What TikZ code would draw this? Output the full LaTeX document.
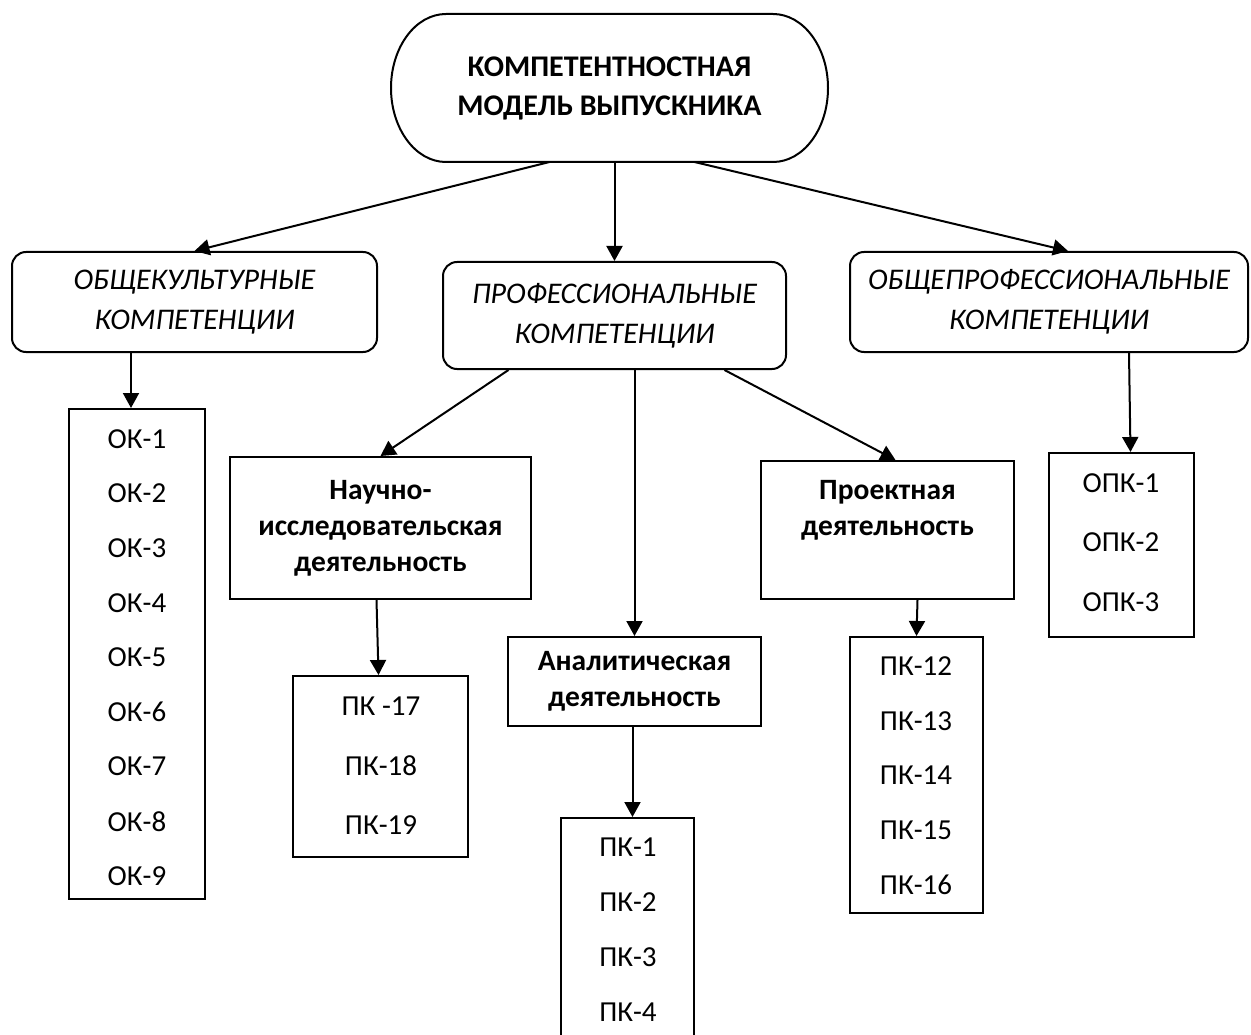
\documentclass[tikz,border=0pt]{standalone}
\usepackage{fontspec}
\setmainfont{Carlito}
\usetikzlibrary{arrows.meta}

\begin{document}
\begin{tikzpicture}[x=1pt, y=-1pt, line width=2pt,
	arr/.style={-{Triangle[length=15pt,width=16pt]}},
	head/.style={draw, rounded corners=14pt, align=center, font=\fontsize{30}{40}\selectfont\itshape},
	group/.style={draw, align=center, font=\fontsize{29.5}{36}\selectfont\bfseries},
	list/.style={draw},
	item/.style={font=\fontsize{29}{32}\selectfont}]
	\useasboundingbox (0,0) rectangle (1251,1035);
	
	%model
	\node[minimum width=437pt, minimum height=148pt, outer sep=0pt, align=center, font=\fontsize{30}{39}\selectfont\bfseries] (model) at (609.5,88) {КОМПЕТЕНТНОСТНАЯ\\МОДЕЛЬ ВЫПУСКНИКА};
	\draw ([xshift=55pt]model.north west) -- ([xshift=-55pt]model.north east)
		arc[start angle=90, end angle=-90, x radius=55pt, y radius=74pt]
		-- ([xshift=55pt]model.south west)
		arc[start angle=270, end angle=90, x radius=55pt, y radius=74pt] -- cycle;
	
	%competences
	\node[head, minimum width=365pt, minimum height=100pt] (okul) at (194.5,302) {ОБЩЕКУЛЬТУРНЫЕ\\КОМПЕТЕНЦИИ};
	\node[head, minimum width=343pt, minimum height=107pt] (prof) at (614.5,315.5) {ПРОФЕССИОНАЛЬНЫЕ\\КОМПЕТЕНЦИИ};
	\node[head, minimum width=398pt, minimum height=100pt] (oprof) at (1049,302) {ОБЩЕПРОФЕССИОНАЛЬНЫЕ\\КОМПЕТЕНЦИИ};
	
	%activities
	\node[group, minimum width=301pt, minimum height=142pt] (nauch) at (380.5,528) {Научно-\\исследовательская\\деятельность};
	\node[group, minimum width=253pt, minimum height=89pt] (anal) at (634.5,681.5) {Аналитическая\\деятельность};
	\node[group, minimum width=253pt, minimum height=138pt] (proj) at (887.5,530) {};
	\node[font=\fontsize{29.5}{36}\selectfont\bfseries, align=center] (projtext) at (887.5,510) {Проектная\\деятельность};
	
	%OK list
	\node[list, minimum width=136pt, minimum height=490pt] (okbox) at (137,654) {};
	\foreach \i in {1,...,9}
		\node[item] (ok\i) at (137, {384.4+54.6*\i}) {ОК-\i};
	
	%PK lists
	\node[list, minimum width=175pt, minimum height=181pt] (pk17box) at (380.5,766.5) {};
	\node[item] (pk17) at (381,706) {ПК -17};
	\node[item] (pk18) at (381,766) {ПК-18};
	\node[item] (pk19) at (381,825) {ПК-19};
	
	\node[list, minimum width=133pt, minimum height=227pt] (pk1box) at (627.5,931.5) {};
	\foreach \i in {1,...,4}
		\node[item] (pk\i) at (628, {792+55*\i}) {ПК-\i};
	
	\node[list, minimum width=133pt, minimum height=276pt] (pk12box) at (916.5,775) {};
	\foreach \i in {12,...,16}
		\node[item] (pk\i) at (916, {666+54.75*(\i-12)}) {ПК-\i};
	
	%OPK list
	\node[list, minimum width=145pt, minimum height=184pt] (opkbox) at (1121.5,545) {};
	\foreach \i in {1,2,3}
		\node[item] (opk\i) at (1121, {423.5+59.5*\i}) {ОПК-\i};
	
	%arrows
	\draw[arr] ([xshift=-60pt]model.south) -- (okul.north);
	\draw[arr] (model.south -| prof.north) -- (prof.north);
	\draw[arr] ([xshift=85pt]model.south) -- ([xshift=19pt]oprof.north);
	\draw[arr] ([xshift=120pt]okul.south west) -- ([xshift=63pt]okbox.north west);
	\draw[arr] ([xshift=-106pt]prof.south) -- (nauch.north);
	\draw[arr] (anal.north |- prof.south) -- (anal.north);
	\draw[arr] ([xshift=110pt]prof.south) -- ([xshift=8pt]proj.north);
	\draw[arr] ([xshift=80pt]oprof.south) -- ([xshift=9pt]opkbox.north);
	\draw[arr] ([xshift=-4pt]nauch.south) -- ([xshift=-2pt]pk17box.north);
	\draw[arr] ([xshift=-2pt]anal.south) -- ([xshift=5pt]pk1box.north);
	\draw[arr] ([xshift=30pt]proj.south) -- (pk12box.north);
\end{tikzpicture}
\end{document}
